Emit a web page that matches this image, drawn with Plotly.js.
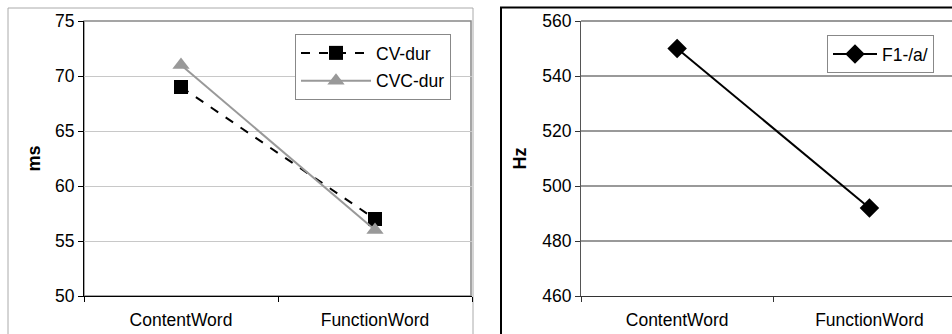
<!DOCTYPE html>
<html><head><meta charset="utf-8">
<script src="https://cdn.plot.ly/plotly-3.0.1.min.js"></script>
<style>html,body{margin:0;padding:0;background:#fff}</style>
</head><body><div id="chart" style="width:952px;height:334px"></div>
<script>
const categories = ["ContentWord", "FunctionWord"];
const cvDur = [69, 57];
const cvcDur = [71, 56];
const f1a = [550, 492];
const leftTicks = [50, 55, 60, 65, 70, 75];
const rightTicks = [460, 480, 500, 520, 540, 560];

const W = 952, H = 334;
const px = v => v / W, py = v => (H - v) / H;
const FONT = "Liberation Sans, Arial, sans-serif";

const traces = [
  {x: categories, y: cvDur, name: "CV-dur", type: "scatter", mode: "lines+markers",
   xaxis: "x", yaxis: "y", legend: "legend", legendgroup: "a",
   line: {color: "#000", width: 2, dash: "dash"},
   marker: {symbol: "square", size: 14, color: "#000"}},
  {x: categories, y: cvcDur, name: "CVC-dur", type: "scatter", mode: "lines+markers",
   xaxis: "x", yaxis: "y", legend: "legend", legendgroup: "b",
   line: {color: "#999", width: 2},
   marker: {symbol: "triangle-up", size: 15, color: "#999"}},
  {x: categories, y: f1a, name: "F1-/a/", type: "scatter", mode: "lines+markers",
   xaxis: "x2", yaxis: "y2", legend: "legend2",
   line: {color: "#000", width: 2},
   marker: {symbol: "diamond", size: 15, color: "#000"}}
];

const tickFont = {family: FONT, size: 17.5, color: "#000"};
const layout = {
  width: W, height: H,
  margin: {l: 0, r: 0, t: 0, b: 0},
  paper_bgcolor: "#fff", plot_bgcolor: "rgba(0,0,0,0)",
  font: {family: FONT, color: "#000"},
  showlegend: true,
  xaxis: {domain: [px(84), px(472)], type: "category", range: [-0.5, 1.5],
    showgrid: false, zeroline: false, showline: true, linecolor: "#000", linewidth: 1,
    ticks: "outside", tickson: "boundaries", ticklen: 5, tickcolor: "#000",
    ticklabelstandoff: 8,
    tickfont: tickFont, anchor: "y", fixedrange: true},
  yaxis: {domain: [py(296), py(21)], range: [50, 75], tickvals: leftTicks,
    showgrid: true, gridcolor: "#c8c8c8", gridwidth: 1, zeroline: false,
    showline: true, linecolor: "#000", linewidth: 1,
    ticks: "outside", ticklen: 5, tickcolor: "#000", tickfont: tickFont,
    title: {text: "<b>ms</b>", font: {family: FONT, size: 18, color: "#000"}, standoff: 9},
    anchor: "x", fixedrange: true},
  xaxis2: {domain: [px(581), 1], type: "category", range: [-0.5, -0.5 + 371 / 192.3],
    showgrid: false, zeroline: false, showline: true, linecolor: "#333", linewidth: 1,
    ticks: "outside", tickson: "boundaries", ticklen: 5, tickcolor: "#333",
    ticklabelstandoff: 8,
    tickfont: tickFont, anchor: "y2", fixedrange: true},
  yaxis2: {domain: [py(296), py(21)], range: [460, 560], tickvals: rightTicks,
    showgrid: true, gridcolor: "#999", gridwidth: 2, zeroline: false,
    showline: true, linecolor: "#555", linewidth: 1,
    ticks: "outside", ticklen: 5, tickcolor: "#333", tickfont: tickFont,
    title: {text: "<b>Hz</b>", font: {family: FONT, size: 18, color: "#000"}, standoff: 10},
    anchor: "x2", fixedrange: true},
  legend: {x: px(295), y: py(34), xanchor: "left", yanchor: "top",
    bgcolor: "#fff", bordercolor: "#888", borderwidth: 1,
    font: {family: FONT, size: 17.5, color: "#000"}, traceorder: "grouped",
    tracegroupgap: 2, itemwidth: 70},
  legend2: {x: px(827), y: py(35), xanchor: "left", yanchor: "top",
    bgcolor: "#fff", bordercolor: "#888", borderwidth: 1,
    font: {family: FONT, size: 17.5, color: "#000"}, itemwidth: 44},
  shapes: [
    {type: "rect", xref: "paper", yref: "paper", x0: px(8), x1: px(473), y0: -0.2, y1: py(8),
     line: {color: "#aaa", width: 1}, layer: "below"},
    {type: "rect", xref: "paper", yref: "paper", x0: px(84), x1: px(471), y0: py(296), y1: py(21),
     line: {color: "#888", width: 1.5}, layer: "below"},
    {type: "rect", xref: "paper", yref: "paper", x0: px(501), x1: 1.2, y0: -0.2, y1: py(7.5),
     line: {color: "#000", width: 2}, layer: "below"},
    {type: "line", xref: "paper", yref: "paper", x0: px(581), x1: 1, y0: py(21), y1: py(21),
     line: {color: "#999", width: 2}, layer: "below"}
  ]
};

Plotly.newPlot("chart", traces, layout, {displayModeBar: false, staticPlot: true});
</script></body></html>
